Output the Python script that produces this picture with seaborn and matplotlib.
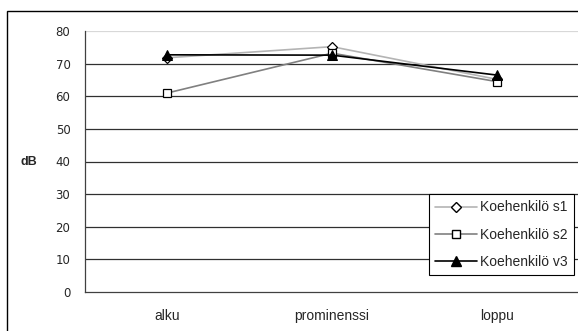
import matplotlib
matplotlib.use("Agg")
import matplotlib.pyplot as plt
import seaborn as sns
import pandas as pd
from matplotlib.patches import Rectangle
from matplotlib.lines import Line2D

categories = ["alku", "prominenssi", "loppu"]
s1 = [71.8, 75.2, 65.2]
s2 = [61.0, 73.2, 64.5]
v3 = [72.7, 72.6, 66.5]
series_names = ["Koehenkilö s1", "Koehenkilö s2", "Koehenkilö v3"]
y_ticks = [0, 10, 20, 30, 40, 50, 60, 70, 80]

sns.set_theme(style="white")
plt.rcParams['font.family'] = ['Liberation Sans', 'DejaVu Sans']

rows = []
for name, vals in zip(series_names, [s1, s2, v3]):
    for i, (c, v) in enumerate(zip(categories, vals)):
        rows.append({"pos": i, "cat": c, "dB": v, "series": name})
df = pd.DataFrame(rows)

fig = plt.figure(figsize=(5.78, 3.31), dpi=100)
fig.patch.set_facecolor("white")
ax = fig.add_axes([85/578, 1-292/331, 494/578, 261/331])

palette = {series_names[0]: "#b4b4b4", series_names[1]: "#808080", series_names[2]: "#000000"}
markers = {series_names[0]: "D", series_names[1]: "s", series_names[2]: "^"}
sns.lineplot(data=df, x="pos", y="dB", hue="series", style="series",
             palette=palette, markers=markers, dashes=False, sort=False,
             linewidth=1.2, markersize=6, ax=ax, legend=False)

for line, name in zip(ax.get_lines(), series_names):
    if name == series_names[2]:
        line.set_markerfacecolor("black")
        line.set_markeredgecolor("black")
        line.set_markersize(7)
    else:
        line.set_markerfacecolor("white")
        line.set_markeredgecolor("black")
        line.set_markeredgewidth(0.9)
        if name == series_names[0]:
            line.set_markersize(5)

ax.set_xlim(-0.5, 2.5)
ax.set_ylim(0, 80)
ax.set_yticks(y_ticks)
ax.set_yticklabels([str(t) for t in y_ticks], fontsize=8.5, family=["DejaVu Sans"])
ax.set_xticks([0, 1, 2])
ax.set_xticklabels(categories, fontsize=10)
ax.set_xticks([0.5, 1.5], minor=True)
ax.tick_params(axis="x", which="major", length=0, pad=12)
ax.tick_params(axis="x", which="minor", length=4, width=0.8, color="#404040", direction="out")
ax.tick_params(axis="y", which="major", length=5, width=0.8, color="#404040", direction="out", pad=5.5)

for y in y_ticks[1:-1]:
    ax.axhline(y, color="#303030", linewidth=0.9, zorder=0)
ax.axhline(80, color="#d8d8d8", linewidth=0.9, zorder=0)

for side in ["top", "right"]:
    ax.spines[side].set_visible(False)
for side in ["left", "bottom"]:
    ax.spines[side].set_color("#404040")
    ax.spines[side].set_linewidth(0.9)

ax.set_xlabel("")
ax.set_ylabel("dB", rotation=0, fontsize=9, fontweight="bold", va="center", ha="center")
ax.yaxis.set_label_coords((29-85)/494, (292-162)/261)

handles = [
    Line2D([], [], color="#b4b4b4", marker="D", markerfacecolor="white", markeredgecolor="black", markersize=5, linewidth=1.2),
    Line2D([], [], color="#808080", marker="s", markerfacecolor="white", markeredgecolor="black", markersize=6, linewidth=1.2),
    Line2D([], [], color="black", marker="^", markerfacecolor="black", markeredgecolor="black", markersize=7, linewidth=1.2),
]
leg = ax.legend(handles, series_names, loc="lower right", bbox_to_anchor=(0.99, 0.065),
                fontsize=10, frameon=True, fancybox=False, shadow=False,
                handlelength=3.0, labelspacing=0.95, borderpad=0.45, handletextpad=0.25,
                borderaxespad=0)
leg.get_frame().set_edgecolor("black")
leg.get_frame().set_linewidth(0.8)
leg.get_frame().set_alpha(1)

fig.patches.append(Rectangle((6.5/578, -0.05), 1.0, 1 - 10.5/331 + 0.05,
                             transform=fig.transFigure, fill=False,
                             edgecolor="black", linewidth=1.0))

fig.savefig("out.png", dpi=100)
